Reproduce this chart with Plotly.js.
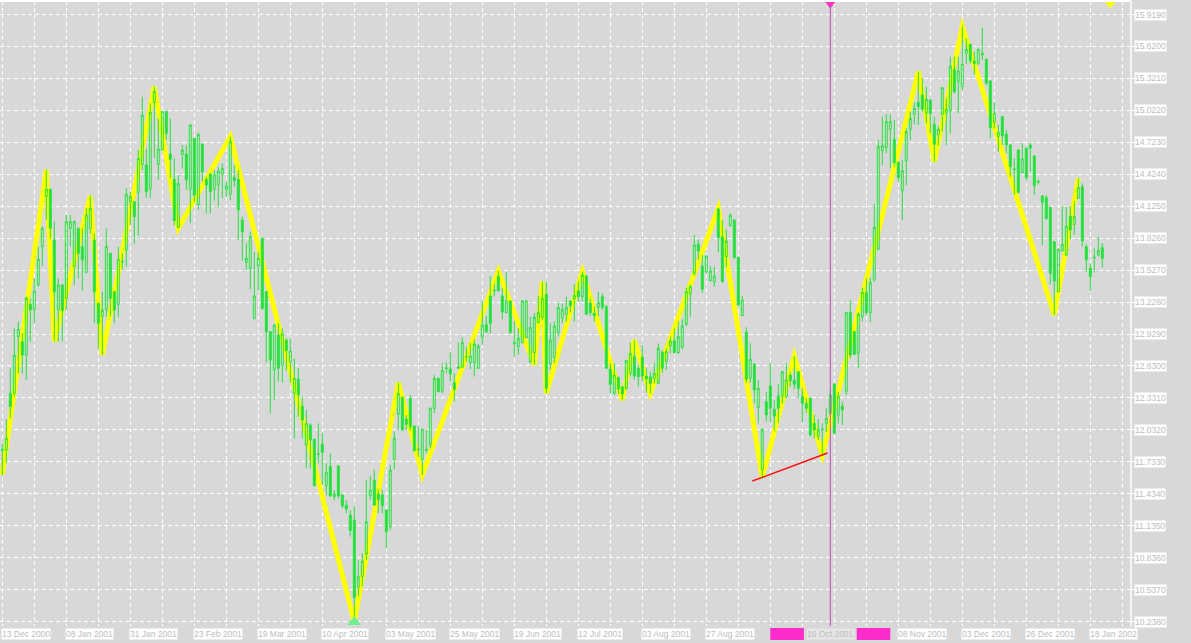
<!DOCTYPE html>
<html>
<head>
<meta charset="utf-8">
<script src="https://cdn.plot.ly/plotly-3.0.1.min.js"></script>
<style>
html,body{margin:0;padding:0;background:#d8d8d8;overflow:hidden;}
#chart{width:1191px;height:643px;}
</style>
</head>
<body>
<div id="chart"></div>
<script>
// ---- data (one value per trading day, bar index 0..275) ----
const opens = [
11.837,11.843,12.374,12.374,12.904,12.857,12.733,13.207,13.154,13.388,
13.746,14.214,14.283,13.809,13.154,13.388,13.263,13.918,13.559,13.918,
13.746,13.506,13.918,13.809,13.216,13.091,13.154,13.684,13.325,13.207,
13.603,13.715,14.167,14.167,14.255,14.517,14.511,14.286,15.094,14.517,
14.651,15.010,14.613,14.376,13.927,14.610,14.613,14.283,14.760,14.136,
14.707,14.376,14.426,14.283,14.323,14.426,14.283,14.239,14.395,14.376,
13.996,13.600,13.544,13.076,13.565,13.824,13.325,12.951,12.592,12.920,
12.633,12.873,12.670,12.374,12.508,12.255,11.890,12.078,11.943,11.800,
11.897,11.510,11.688,11.407,11.694,11.423,11.329,11.235,11.189,10.559,
10.658,10.870,11.416,11.563,11.432,11.423,11.282,11.126,11.756,12.177,
12.337,12.134,12.327,12.068,11.853,11.756,11.837,11.890,12.234,12.514,
12.396,12.605,12.602,12.474,12.608,12.617,12.714,12.661,12.661,12.608,
12.898,13.020,13.285,13.332,13.472,13.285,13.129,13.238,12.839,12.811,
12.848,12.898,12.670,12.754,13.035,13.085,13.300,12.648,12.711,12.942,
13.076,13.113,13.238,13.257,13.331,13.279,13.472,13.216,13.123,13.179,
13.279,13.185,12.599,12.374,12.524,12.436,12.421,12.561,12.717,12.608,
12.711,12.536,12.530,12.514,12.468,12.758,12.670,12.817,12.864,12.755,
12.804,13.020,13.300,13.497,13.771,13.565,13.512,13.428,13.419,14.099,
13.840,13.653,13.943,13.996,13.647,13.101,12.945,12.514,12.648,12.243,
11.657,12.296,12.443,12.224,12.349,12.349,12.343,12.545,12.499,12.577,
12.343,12.280,12.327,12.093,11.968,12.034,12.093,12.187,12.461,12.171,
12.255,12.389,13.129,12.951,12.748,13.091,13.319,13.129,13.434,13.721,
14.645,14.673,14.844,14.751,14.536,14.270,14.548,14.844,14.985,15.097,
15.166,14.994,15.119,14.891,14.791,14.985,14.994,15.016,15.406,15.290,
15.244,15.556,15.640,15.484,15.462,15.540,15.499,15.297,14.910,14.776,
14.963,14.801,14.698,14.476,14.651,14.439,14.667,14.698,14.595,14.358,
14.220,14.205,14.114,13.793,13.325,13.706,13.668,14.033,13.955,14.199,
14.308,13.746,13.544,13.650,13.668,13.737
];
const highs = [
11.906,12.131,12.608,12.982,13.044,12.935,13.278,13.263,13.450,13.746,
13.934,14.464,14.292,13.980,13.450,13.394,14.043,14.043,13.990,13.927,
13.918,14.105,14.221,13.871,13.222,13.325,13.918,13.690,13.331,13.746,
13.684,14.292,14.261,14.174,14.651,15.150,14.660,15.088,15.244,14.947,
15.019,15.019,14.947,14.573,14.417,14.698,14.698,14.891,14.766,14.813,
14.713,14.401,14.433,14.464,14.495,14.526,14.355,14.776,14.511,14.464,
14.027,13.777,13.887,13.700,13.700,13.831,13.331,12.957,13.023,13.029,
12.982,12.889,12.889,12.701,12.608,12.343,12.218,12.093,11.953,12.093,
12.000,11.719,11.812,11.469,11.700,11.432,11.376,11.282,11.320,10.814,
10.877,11.563,11.600,11.657,11.476,11.469,11.288,11.703,12.015,12.474,
12.343,12.171,12.358,12.074,12.062,12.043,12.031,12.240,12.545,12.521,
12.655,12.661,12.758,12.561,12.848,12.898,12.811,12.848,12.879,12.836,
13.238,13.098,13.472,13.403,13.519,13.357,13.512,13.244,13.045,12.982,
13.244,13.244,13.091,13.123,13.285,13.419,13.419,13.029,13.045,13.222,
13.216,13.279,13.247,13.394,13.419,13.513,13.478,13.263,13.185,13.325,
13.310,13.201,12.655,12.655,12.530,12.443,12.686,12.848,12.873,12.639,
12.826,12.608,12.577,12.655,12.842,12.779,12.795,12.904,12.982,13.045,
13.067,13.363,13.394,13.856,13.809,13.668,13.665,13.565,13.559,14.105,
13.996,13.909,14.058,14.002,13.653,13.285,12.992,12.842,12.655,12.499,
12.043,12.390,12.655,12.312,12.458,12.583,12.655,12.577,12.723,12.583,
12.421,12.327,12.333,12.171,12.131,12.093,12.234,12.405,12.468,12.390,
12.296,13.138,13.247,12.957,13.129,13.363,13.450,13.456,14.143,14.745,
14.963,14.985,14.985,14.932,14.542,14.557,14.854,15.010,15.097,15.385,
15.322,15.244,15.125,14.963,14.876,15.241,15.134,15.524,15.524,15.524,
15.805,15.696,15.649,15.571,15.602,15.796,15.509,15.303,15.097,14.885,
14.969,14.838,14.704,14.573,14.657,14.713,14.673,14.723,14.601,14.380,
14.230,14.230,14.121,13.799,13.731,14.121,14.121,14.121,14.168,14.386,
14.339,13.768,13.590,13.731,13.840,13.777
];
const lows = [
11.610,11.725,12.140,12.343,12.561,12.561,12.499,12.857,13.029,13.372,
13.565,13.996,13.824,12.857,12.857,12.857,13.154,13.746,13.388,13.450,
13.335,13.497,13.871,13.029,12.795,12.733,13.091,13.091,13.029,13.091,
13.528,13.559,13.949,13.771,13.849,14.464,14.205,14.205,14.573,14.370,
14.642,14.744,14.386,13.949,13.918,14.479,14.277,13.965,14.167,14.089,
14.355,14.058,14.058,14.177,14.114,14.199,14.214,14.183,14.308,13.809,
13.615,13.528,13.347,13.066,13.335,13.154,12.661,12.187,12.311,12.483,
12.474,12.586,12.474,11.953,12.156,11.953,11.672,11.672,11.501,11.719,
11.516,11.423,11.407,11.376,11.391,11.298,11.251,11.033,10.237,10.471,
10.565,10.814,11.376,11.320,11.251,11.251,10.923,11.095,11.663,12.031,
12.025,12.031,12.031,11.828,11.781,11.610,11.813,11.859,12.187,12.383,
12.374,12.561,12.483,12.296,12.602,12.608,12.670,12.599,12.530,12.602,
12.826,12.935,12.935,13.279,13.325,13.066,13.123,12.935,12.717,12.733,
12.842,12.889,12.655,12.640,13.029,13.060,12.374,12.592,12.655,12.904,
13.029,13.045,13.129,13.045,13.232,13.232,13.107,13.098,13.045,13.098,
13.154,12.602,12.374,12.358,12.368,12.312,12.405,12.530,12.505,12.436,
12.483,12.380,12.374,12.468,12.461,12.567,12.592,12.748,12.748,12.742,
12.786,13.004,13.091,13.472,13.622,13.316,13.497,13.422,13.372,13.693,
13.410,13.553,13.934,13.637,13.194,13.098,12.474,12.474,12.280,12.093,
11.588,12.109,12.099,12.031,12.099,12.280,12.327,12.436,12.411,12.327,
12.099,12.193,11.968,11.953,11.937,11.797,12.015,12.171,11.993,12.093,
12.078,12.358,12.701,12.733,12.614,13.045,13.107,13.038,13.419,13.715,
14.511,14.620,14.479,14.495,14.355,13.996,14.323,14.745,14.891,14.885,
15.010,14.901,14.807,14.542,14.692,14.823,14.698,14.807,15.181,14.994,
15.212,15.453,15.462,15.359,15.446,15.493,15.259,14.760,14.854,14.635,
14.698,14.620,14.401,14.230,14.245,14.433,14.370,14.448,14.230,14.330,
13.762,13.996,13.394,13.107,13.319,13.700,13.662,13.818,13.856,14.192,
13.746,13.506,13.332,13.506,13.653,13.550
];
const closes = [
11.850,11.953,12.249,12.733,12.973,12.733,13.263,13.154,13.331,13.628,
13.918,14.283,13.918,13.325,13.388,13.147,13.980,13.980,13.980,13.684,
13.621,14.043,14.105,13.325,13.029,13.154,13.746,13.263,13.154,13.628,
13.609,14.239,14.214,14.027,14.573,14.978,14.261,15.003,15.197,14.660,
15.010,14.807,14.564,13.990,14.339,14.651,14.370,14.885,14.230,14.798,
14.448,14.323,14.261,14.417,14.454,14.479,14.314,14.729,14.364,14.090,
13.887,13.637,13.840,13.285,13.637,13.169,12.951,12.686,13.013,12.608,
12.929,12.773,12.770,12.514,12.358,12.124,12.093,11.937,11.510,11.806,
11.822,11.635,11.413,11.432,11.413,11.320,11.292,11.089,10.462,10.658,
10.805,11.173,11.469,11.329,11.376,11.320,11.079,11.656,11.953,12.374,
12.031,12.084,12.062,11.837,11.847,12.037,11.850,12.234,12.514,12.390,
12.586,12.611,12.555,12.411,12.624,12.851,12.720,12.723,12.836,12.817,
13.013,12.951,13.029,13.338,13.335,13.138,13.238,12.942,12.845,12.889,
13.238,13.238,12.992,13.085,13.129,13.263,12.421,12.873,13.004,13.176,
13.160,13.179,13.191,13.291,13.279,13.481,13.113,13.129,13.101,13.222,
13.179,12.608,12.458,12.545,12.415,12.368,12.680,12.748,12.536,12.530,
12.536,12.508,12.468,12.561,12.795,12.608,12.764,12.864,12.755,12.904,
13.004,13.325,13.372,13.762,13.706,13.347,13.659,13.519,13.472,13.831,
13.419,13.799,14.040,13.643,13.201,13.247,12.505,12.692,12.405,12.421,
12.037,12.171,12.234,12.162,12.234,12.577,12.499,12.493,12.458,12.421,
12.280,12.234,11.984,12.031,12.037,12.040,12.140,12.358,12.000,12.349,
12.218,13.129,12.733,12.739,13.116,13.319,13.129,13.409,13.927,14.682,
14.692,14.916,14.916,14.533,14.392,14.458,14.823,14.947,15.041,15.057,
15.032,15.125,14.994,14.704,14.844,15.234,15.032,15.437,15.197,15.390,
15.453,15.593,15.487,15.462,15.593,15.556,15.275,14.860,14.994,14.813,
14.785,14.698,14.495,14.470,14.255,14.567,14.392,14.667,14.317,14.352,
14.161,14.012,13.497,13.425,13.721,13.768,13.934,13.902,14.027,14.299,
13.799,13.622,13.466,13.643,13.709,13.637
];

// date labels, one every 16 bars (null = hidden behind the marker tags)
const dateLabels = ['13 Dec 2000','08 Jan 2001','31 Jan 2001','23 Feb 2001','19 Mar 2001',
  '10 Apr 2001','03 May 2001','25 May 2001','19 Jun 2001','12 Jul 2001','03 Aug 2001',
  '27 Aug 2001',null,null,'08 Nov 2001','03 Dec 2001','26 Dec 2001','18 Jan 2002'];
const labelStep = 16;

const priceTicks = [10.238,10.537,10.836,11.135,11.434,11.733,12.032,12.331,12.630,12.929,
  13.228,13.527,13.826,14.125,14.424,14.723,15.022,15.321,15.620,15.919];
const priceTickText = ['10.2380','10.5370','10.8360','11.1350','11.4340','11.7330','12.0320',
  '12.3310','12.6300','12.9290','13.2280','13.5270','13.8260','14.1250','14.4240','14.7230',
  '15.0220','15.3210','15.6200','15.9190'];

// zigzag pivots (bar index, H = high / L = low)
const zigzagBars  = [0,11,13,22,25,38,44,57,88,99,105,124,133,135,136,145,155,158,162,179,190,198,205,229,233,240,263,269];
const zigzagKinds = ['L','H','L','H','L','H','L','H','L','H','L','H','L','H','L','H','L','H','L','H','L','H','L','H','L','H','L','H'];

const supportBars = [190, 205];       // red trend line through these lows
const vlineBar = 207;                 // vertical line
const vlineLabel = '16 Oct 2001';
const lowArrowBar = 88;               // green arrow under the low
const shiftMarkerBar = 277;           // yellow chart-shift marker

// ---- layout constants ----
const W = 1191, H = 643;
const margin = {l:0, r:60, t:1, b:17};
const plotH = H - margin.t - margin.b;
const xRange = [-0.575, 282.175];
const yRange = [10.1966, 16.0453];
const pxPerUnit = plotH / (yRange[1] - yRange[0]);
const pxPerBar = (W - margin.l - margin.r) / (xRange[1] - xRange[0]);
const green = '#26e23e';
const labelFont = {family:'Liberation Sans, Arial, sans-serif', size:8.5, color:'#bdbdbd'};

const idx = opens.map((_, i) => i);

// zigzag path (drawn between grid and candles)
const zzY = zigzagBars.map((b, k) => zigzagKinds[k] === 'H' ? highs[b] : lows[b]);
const zzPath = zigzagBars.map((b, k) => (k ? 'L' : 'M') + b + ',' + zzY[k]).join(' ');

// support line through the two lows, slightly extended
const sA = supportBars[0], sB = supportBars[1];
const slope = (lows[sB] - lows[sA]) / (sB - sA);
const supX = [sA - 2.5, sB + 1.3];
const supY = supX.map(x => lows[sA] + slope * (x - sA));

const gridX = [];
for (let v = 0; v <= xRange[1]; v += 8) gridX.push(v);

const toPaperX = b => (b - xRange[0]) / (xRange[1] - xRange[0]);

const traces = [
  {
    type:'candlestick', x: idx, open: opens, high: highs, low: lows, close: closes,
    increasing:{line:{color:green, width:1}, fillcolor:'rgba(0,0,0,0)'},
    decreasing:{line:{color:green, width:1}, fillcolor:green},
    whiskerwidth:0, hoverinfo:'skip', showlegend:false
  },
  {
    type:'scatter', mode:'lines', x: supX, y: supY,
    line:{color:'#ff1010', width:1.5}, hoverinfo:'skip', showlegend:false
  },
  {
    type:'scatter', mode:'markers', x:[lowArrowBar], y:[yRange[0] + 4/pxPerUnit],
    marker:{symbol:'triangle-up', size:12, color:'#6ef08e', line:{width:0}},
    cliponaxis:false, hoverinfo:'skip', showlegend:false
  },
  {
    type:'scatter', mode:'markers', x:[vlineBar, shiftMarkerBar],
    y:[yRange[1] - 3/pxPerUnit, yRange[1] - 3/pxPerUnit],
    marker:{symbol:'triangle-down', size:9, color:['#ff30c8','#ffff00'], line:{width:0}},
    cliponaxis:false, hoverinfo:'skip', showlegend:false
  }
];

const shapes = [
  {type:'path', path: zzPath, xref:'x', yref:'y', layer:'between',
   line:{color:'#ffff00', width:5}, fillcolor:'rgba(0,0,0,0)'},
  {type:'line', xref:'x', yref:'paper', x0:vlineBar, x1:vlineBar, y0:0, y1:1,
   line:{color:'#c846b8', width:1}, layer:'above'},
  {type:'line', xref:'paper', yref:'paper', x0:0, x1:1, y0:1, y1:1,
   line:{color:'#ffffff', width:2}},
  {type:'line', xref:'paper', yref:'paper', x0:1, x1:1, y0:0, y1:1,
   line:{color:'#ffffff', width:1.5}},
  {type:'rect', xref:'paper', yref:'paper',
   x0: toPaperX(vlineBar - 15.0), x1: toPaperX(vlineBar - 6.6),
   y0: -14/plotH, y1: -2/plotH, fillcolor:'#ff2ccc', line:{width:0}},
  {type:'rect', xref:'paper', yref:'paper',
   x0: toPaperX(vlineBar + 6.6), x1: toPaperX(vlineBar + 15.0),
   y0: -14/plotH, y1: -2/plotH, fillcolor:'#ff2ccc', line:{width:0}}
];

const annotations = [];
dateLabels.forEach((t, k) => {
  if (!t) return;
  annotations.push({xref:'x', x: k * labelStep, xanchor:'left', xshift:-1,
    yref:'paper', y:0, yanchor:'top', yshift:-2,
    text:t, showarrow:false, bgcolor:'#ffffff', borderpad:0, font:labelFont});
});
annotations.push({xref:'x', x: vlineBar, xanchor:'center',
  yref:'paper', y:0, yanchor:'top', yshift:-2,
  text: vlineLabel, showarrow:false, bgcolor:'#e6e6e6', borderpad:0, font:labelFont});
priceTicks.forEach((v, k) => {
  annotations.push({xref:'paper', x:1, xanchor:'left', xshift:3,
    yref:'y', y:v, yanchor:'middle',
    text: priceTickText[k], showarrow:false, bgcolor:'#ffffff', borderpad:0, font:labelFont});
});

const layout = {
  width:W, height:H, autosize:false, margin:margin,
  paper_bgcolor:'#d8d8d8', plot_bgcolor:'#d8d8d8',
  showlegend:false, hovermode:false,
  xaxis:{range:xRange, tickmode:'array', tickvals:gridX, showticklabels:false, ticks:'',
         showgrid:true, gridcolor:'#ffffff', gridwidth:1, griddash:'4px,3px',
         zeroline:false, showline:false, fixedrange:true, rangeslider:{visible:false}},
  yaxis:{range:yRange, side:'right', tickmode:'array', tickvals:priceTicks, showticklabels:false,
         ticks:'outside', ticklen:3, tickcolor:'#ffffff',
         showgrid:true, gridcolor:'#ffffff', gridwidth:1, griddash:'4px,3px',
         zeroline:false, showline:false, fixedrange:true},
  shapes:shapes, annotations:annotations
};

Plotly.newPlot('chart', traces, layout, {staticPlot:true, displayModeBar:false});
</script>
</body>
</html>
